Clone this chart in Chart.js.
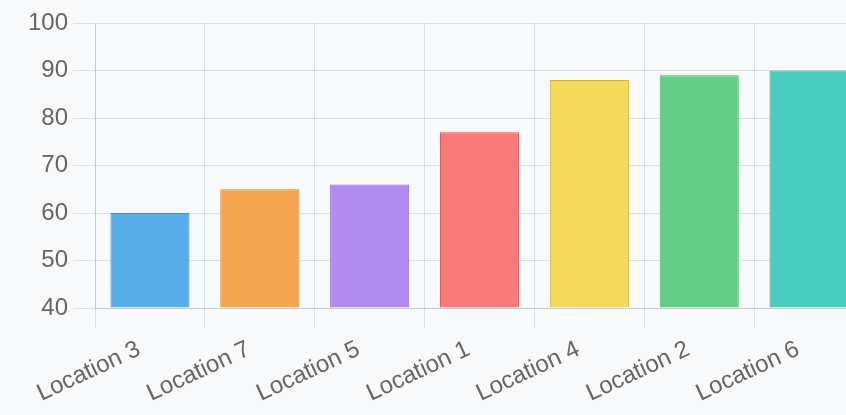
<!DOCTYPE html>
<html>
<head>
<meta charset="utf-8">
<script src="https://cdn.jsdelivr.net/npm/chart.js@4/dist/chart.umd.min.js"></script>
<style>
  html, body { margin: 0; padding: 0; background: #f8f9fb; overflow: hidden; }
  #wrap { width: 864px; height: 415px; }
</style>
</head>
<body>
<div id="wrap"><canvas id="bar_Locations"></canvas></div>
<script>
const labels_Locations = ["Location 3", "Location 7", "Location 5", "Location 1", "Location 4", "Location 2", "Location 6"];
const values_Locations = [60, 65, 66, 77, 88, 89, 90];
const fill_Locations = ["#57ade8", "#f3a54f", "#b08cf0", "#fa7a79", "#f3da5a", "#63cf86", "#4acdc1"];
const border_Locations = ["#3f8fc8", "#d98a35", "#8f6ad0", "#d85f5f", "#c9b240", "#4fae6d", "#2f9f95"];
const yTicks_Locations = { min: 40, max: 100, step: 10 };

const tickFont = { "family": "'Liberation Sans', Arial, sans-serif", "size": 24 };

const config_Locations = {
    "type": "bar",
    "data": {
        "labels": labels_Locations,
        "datasets": [
            {
                "label": "score",
                "data": values_Locations,
                "backgroundColor": fill_Locations,
                "borderColor": border_Locations,
                "borderWidth": 1,
                "base": yTicks_Locations.min
            }
        ]
    },
    "options": {
        "responsive": true,
        "maintainAspectRatio": false,
        "animation": false,
        "layout": { "padding": { "top": 23, "left": 23, "right": 0, "bottom": 0 } },
        "plugins": {
            "legend": { "display": false },
            "tooltip": { "enabled": false }
        },
        "scales": {
            "x": {
                "grid": { "color": "rgba(0,0,0,0.1)", "tickLength": 20 },
                "border": { "color": "rgba(0,0,0,0.1)" },
                "ticks": {
                    "color": "#666",
                    "font": tickFont,
                    "minRotation": 25,
                    "maxRotation": 25,
                    "padding": 7,
                    "labelOffset": -11
                }
            },
            "y": {
                "min": yTicks_Locations.min,
                "max": yTicks_Locations.max,
                "grid": { "color": "rgba(0,0,0,0.1)", "tickLength": 22 },
                "border": { "color": "rgba(0,0,0,0.1)" },
                "ticks": {
                    "stepSize": yTicks_Locations.step,
                    "color": "#666",
                    "font": tickFont,
                    "padding": 5
                }
            }
        }
    }
};

const ctx_Locations = document.getElementById("bar_Locations").getContext('2d');
const myChart_Locations = new Chart(ctx_Locations, config_Locations);
</script>
</body>
</html>
